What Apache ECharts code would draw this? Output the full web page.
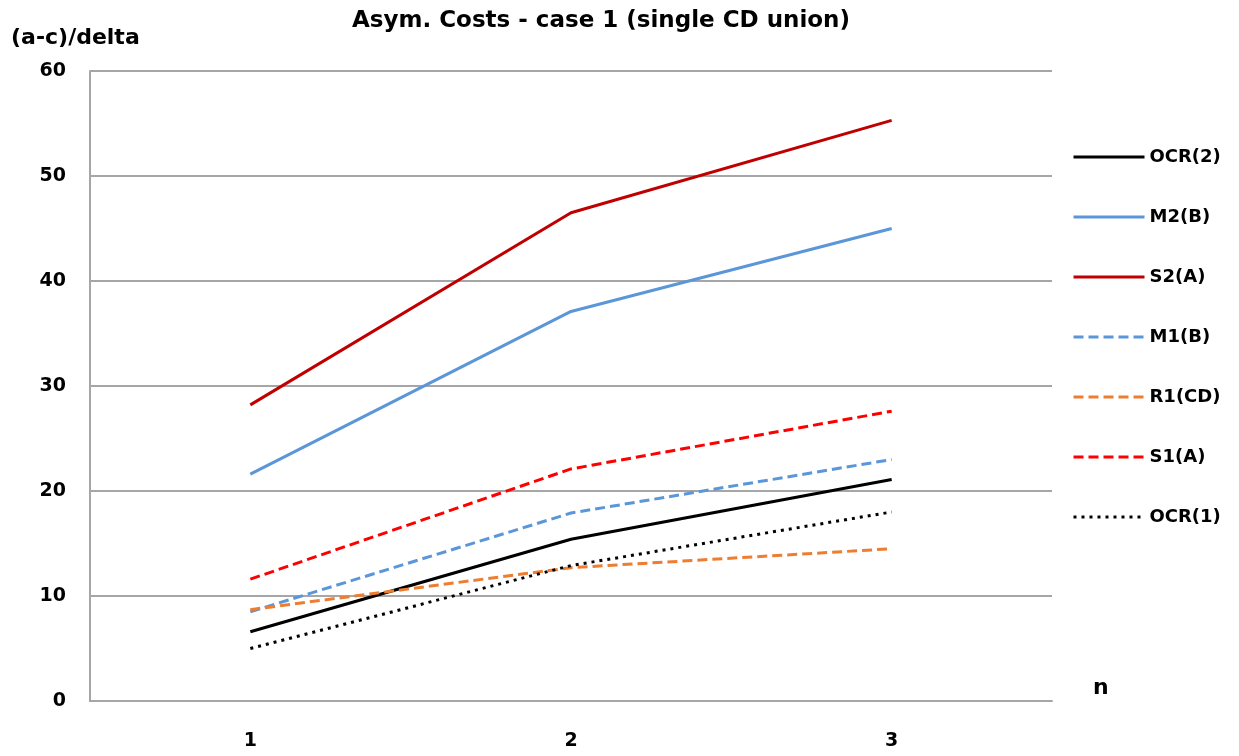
<!DOCTYPE html>
<html>
<head>
<meta charset="utf-8">
<style>
  html, body { margin: 0; padding: 0; background: #fff; }
  #chart { width: 1239px; height: 756px; }
</style>
<script src="https://cdn.jsdelivr.net/npm/echarts@6/dist/echarts.min.js"></script>
</head>
<body>
<div id="chart"></div>
<script>
// Number of firms n on the x axis
const categories = ['1', '2', '3'];

// (a-c)/delta thresholds per scenario
const ocr2 = [6.6, 15.4, 21.1];
const m2B  = [21.6, 37.1, 45.0];
const s2A  = [28.2, 46.5, 55.3];
const m1B  = [8.5, 17.9, 23.0];
const r1CD = [8.7, 12.7, 14.5];
const s1A  = [11.6, 22.1, 27.6];
const ocr1 = [5.0, 12.9, 18.0];

const legendOrder = ['OCR(2)', 'M2(B)', 'S2(A)', 'M1(B)', 'R1(CD)', 'S1(A)', 'OCR(1)'];

const FONT = '"DejaVu Sans", "Liberation Sans", sans-serif';

function line(name, data, color, type, width) {
  return {
    name: name,
    type: 'line',
    data: data,
    symbol: 'circle',
    showSymbol: false,
    smooth: false,
    lineStyle: { color: color, width: width, type: type, cap: 'butt' },
    itemStyle: { color: color },
    emphasis: { disabled: true }
  };
}

const chart = echarts.init(document.getElementById('chart'), null, { renderer: 'canvas' });
chart.setOption({
  animation: false,
  backgroundColor: '#ffffff',
  title: [
    {
      text: 'Asym. Costs - case 1 (single CD union)',
      left: 596, top: 5, textAlign: 'center',
      textStyle: { fontFamily: FONT, fontWeight: 'bold', fontSize: 23, color: '#000' }
    },
    {
      text: '(a-c)/delta',
      left: 6, top: 22,
      textStyle: { fontFamily: FONT, fontWeight: 'bold', fontSize: 22, color: '#000' }
    },
    {
      text: 'n',
      left: 1088, top: 672,
      textStyle: { fontFamily: FONT, fontWeight: 'bold', fontSize: 22, color: '#000' }
    }
  ],
  grid: { left: 90, right: 187, top: 71, bottom: 55, containLabel: false },
  legend: {
    orient: 'vertical',
    left: 1072, top: 147, padding: 0,
    itemWidth: 71, itemHeight: 3, itemGap: 40,
    itemStyle: { opacity: 0 },
    lineStyle: { width: 3 },
    textStyle: { fontFamily: FONT, fontWeight: 'bold', fontSize: 18, lineHeight: 20, color: '#000' },
    data: legendOrder
  },
  xAxis: {
    type: 'category',
    data: categories,
    boundaryGap: true,
    axisTick: { show: false },
    axisLine: { lineStyle: { color: '#a6a6a6', width: 2 } },
    axisLabel: { margin: 31, fontFamily: FONT, fontWeight: 'bold', fontSize: 19, color: '#000' },
    splitLine: { show: false }
  },
  yAxis: {
    type: 'value',
    min: 0, max: 60, interval: 10,
    axisLine: { show: true, lineStyle: { color: '#a6a6a6', width: 2 } },
    axisTick: { show: false },
    axisLabel: { margin: 24, fontFamily: FONT, fontWeight: 'bold', fontSize: 19, color: '#000' },
    splitLine: { show: true, lineStyle: { color: '#a6a6a6', width: 2 } }
  },
  series: [
    line('OCR(2)', ocr2, '#000000', 'solid', 3),
    line('M2(B)', m2B, '#5a96d8', 'solid', 3),
    line('S2(A)', s2A, '#c00000', 'solid', 3),
    line('M1(B)', m1B, '#5a96d8', [10, 5], 3),
    line('R1(CD)', r1CD, '#ed7d31', [10, 5], 3),
    line('S1(A)', s1A, '#ff0000', [10, 5], 3),
    line('OCR(1)', ocr1, '#000000', [3, 5], 3)
  ]
});
</script>
</body>
</html>
